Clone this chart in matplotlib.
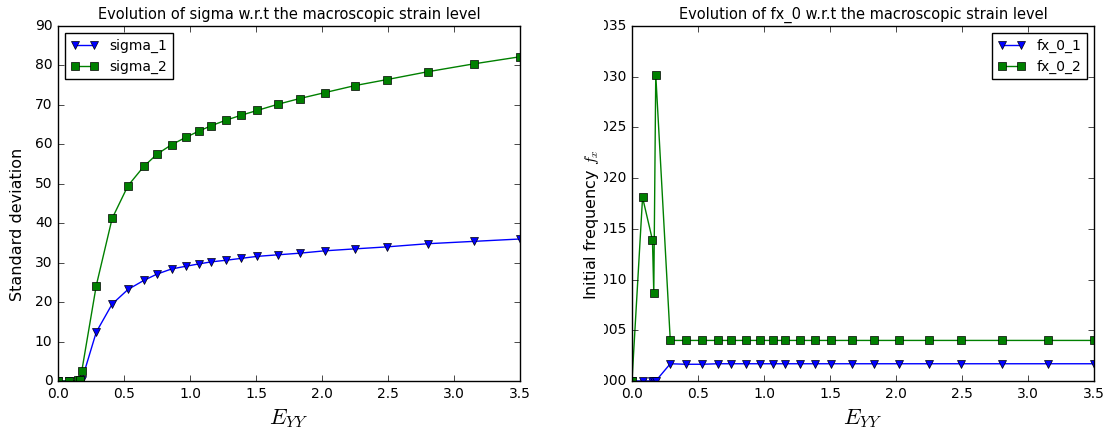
import numpy as np
import matplotlib
matplotlib.use('Agg')
import matplotlib.pyplot as plt
from matplotlib.transforms import Bbox

plt.style.use('classic')

# macroscopic strain level
E_yy = [0.0, 0.08, 0.155, 0.165, 0.18, 0.29, 0.41, 0.53, 0.65, 0.75, 0.86, 0.97,
        1.07, 1.16, 1.27, 1.39, 1.51, 1.67, 1.83, 2.02, 2.25, 2.49, 2.80, 3.15, 3.50]

# standard deviations
sigma_1 = [0.0, 0.0, 0.0, 0.0, 0.2, 12.4, 19.5, 23.2, 25.5, 27.1, 28.4, 29.1,
           29.7, 30.2, 30.6, 31.1, 31.6, 32.0, 32.4, 33.0, 33.5, 34.0, 34.8, 35.4, 36.0]
sigma_2 = [0.0, 0.0, 0.2, 0.3, 2.5, 24.2, 41.2, 49.5, 54.4, 57.5, 59.9, 61.8,
           63.4, 64.7, 66.1, 67.4, 68.6, 70.2, 71.6, 73.1, 74.9, 76.4, 78.4, 80.4, 82.2]

# initial frequencies
fx_0_1 = [0.0, 0.0, 0.0, 0.0, 0.0, 0.0017, 0.00165, 0.00165, 0.0017, 0.0017, 0.0017,
          0.0017, 0.0017, 0.0017, 0.0017, 0.0017, 0.0017, 0.0017, 0.0017, 0.0017,
          0.0017, 0.0017, 0.0017, 0.0017, 0.0017]
fx_0_2 = [0.0, 0.0181, 0.0139, 0.0087, 0.0302, 0.0040, 0.0040, 0.0040, 0.0040, 0.0040,
          0.0040, 0.0040, 0.0040, 0.0040, 0.0040, 0.0040, 0.0040, 0.0040, 0.0040,
          0.0040, 0.0040, 0.0040, 0.0040, 0.0040, 0.0040]

fig = plt.figure(figsize=(11.09, 4.34), dpi=100, facecolor='white')
W, H = 1109., 434.
ax1 = fig.add_axes([58/W, (H-381)/H, 462/W, 355/H])
ax2 = fig.add_axes([632/W, (H-381)/H, 462/W, 355/H])

ms = 5.5
ax1.plot(E_yy, sigma_1, 'bv-', ms=ms, label='sigma_1')
ax1.plot(E_yy, sigma_2, 'gs-', ms=ms, label='sigma_2')
ax1.set_xlim(0, 3.5)
ax1.set_ylim(0, 90)
ax1.set_title('Evolution of sigma w.r.t the macroscopic strain level', fontsize=10.5)
ax1.set_ylabel('Standard deviation', fontsize=11.5)
ax1.yaxis.set_label_coords(-0.071, 0.442)
ax1.set_xlabel('$E_{YY}$', fontsize=16)
ax1.legend(loc='upper left', fontsize=10, numpoints=2)

ax2.plot(E_yy, fx_0_1, 'bv-', ms=ms, label='fx_0_1')
ax2.plot(E_yy, fx_0_2, 'gs-', ms=ms, label='fx_0_2')
ax2.set_xlim(0, 3.5)
ax2.set_ylim(0, 0.035)
ax2.set_yticks(np.arange(0, 0.0351, 0.005))
ax2.yaxis.set_major_formatter(matplotlib.ticker.FormatStrFormatter('%.3f'))
ax2.set_title('Evolution of fx_0 w.r.t the macroscopic strain level', fontsize=10.5)
ax2.set_ylabel('Initial frequency $f_x$', fontsize=11.5)
ax2.yaxis.set_label_coords(-0.067, 0.44)
ax2.set_xlabel('$E_{YY}$', fontsize=16)
ax2.legend(loc='upper right', fontsize=10, numpoints=2)

for ax in (ax1, ax2):
    ax.tick_params(labelsize=10)

# the right y tick labels are cut on their left side
fig.canvas.draw()
rend = fig.canvas.get_renderer()
right_edge = ax2.get_yticklabels()[0].get_window_extent(rend).x1
clip = Bbox([[right_edge - 22, 0], [fig.bbox.width, fig.bbox.height]])
for lab in ax2.get_yticklabels():
    lab.set_clip_box(clip)
    lab.set_clip_on(True)

fig.savefig('out.png', dpi=100, facecolor='white')
